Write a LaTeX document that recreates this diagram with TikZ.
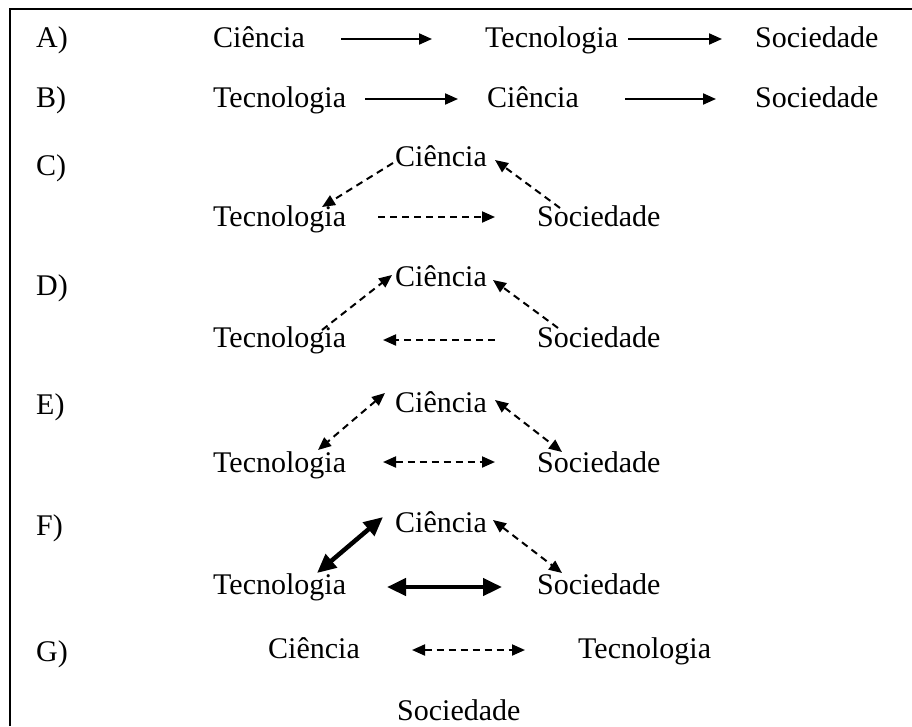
\documentclass[tikz,border=0pt]{standalone}
\usepackage{fontspec}
\setmainfont{Liberation Serif}
\usetikzlibrary{arrows.meta,calc}
\begin{document}
\begin{tikzpicture}[x=1pt,y=-1pt,
  lbl/.style={anchor=base west,inner sep=0pt,font=\fontsize{30}{36}\selectfont},
  thin/.style={line width=2pt,-{Triangle[length=13pt,width=11pt]}},
  dsh/.style={line width=2pt,dash pattern=on 7pt off 5pt,-{Triangle[length=13pt,width=11pt]}},
  dshb/.style={line width=2pt,dash pattern=on 7pt off 5pt,{Triangle[length=13pt,width=11pt]}-{Triangle[length=13pt,width=11pt]}},
  thk/.style={line width=4.5pt,{Triangle[length=19pt,width=17pt]}-{Triangle[length=19pt,width=17pt]}}]
\useasboundingbox (0,0) rectangle (912,726);
\fill[white] (0,0) rectangle (912,726);
\coordinate (corner) at (10,9);
\coordinate (topend) at (912,9);
\coordinate (botend) at (10,726);
\draw[line width=2.5pt] (botend) -- (corner) -- (topend);
% labels
\node[lbl] (lA) at (36,47) {A)};
\node[lbl] (lB) at (36,107) {B)};
\node[lbl] (lC) at (36,175) {C)};
\node[lbl] (lD) at (36,295) {D)};
\node[lbl] (lE) at (36,414) {E)};
\node[lbl] (lF) at (36,535) {F)};
\node[lbl] (lG) at (36,661) {G)};
% row A
\node[lbl] (ca) at (213,47) {Ciência};
\node[lbl] (ta) at (485,47) {Tecnologia};
\node[lbl] (sa) at (755,47) {Sociedade};
\draw[thin] ($(ca.base west)+(128,-8)$) -- ($(ta.base west)+(-53,-8)$);
\draw[thin] ($(ta.base west)+(143,-8)$) -- ($(sa.base west)+(-33,-8)$);
% row B
\node[lbl] (tb) at (213,107) {Tecnologia};
\node[lbl] (cb) at (487,107) {Ciência};
\node[lbl] (sb) at (755,107) {Sociedade};
\draw[thin] ($(tb.base west)+(152,-8)$) -- ($(cb.base west)+(-29,-8)$);
\draw[thin] ($(cb.base west)+(138,-8)$) -- ($(sb.base west)+(-39,-8)$);
% row C
\node[lbl] (cc) at (395,166) {Ciência};
\node[lbl] (tc) at (213,226) {Tecnologia};
\node[lbl] (sc) at (537,226) {Sociedade};
\draw[dsh] ($(cc.base west)+(-2,-3)$) -- ($(tc.base west)+(109,-19)$);
\draw[dsh] ($(sc.base west)+(23,-18)$) -- ($(cc.base west)+(100,-6)$);
\draw[dsh] ($(tc.base west)+(165,-9)$) -- ($(sc.base west)+(-42,-9)$);
% row D
\node[lbl] (cd) at (395,286) {Ciência};
\node[lbl] (td) at (213,347) {Tecnologia};
\node[lbl] (sd) at (537,347) {Sociedade};
\draw[dsh] ($(td.base west)+(109,-17)$) -- ($(cd.base west)+(-3,-11)$);
\draw[dsh] ($(sd.base west)+(21,-19)$) -- ($(cd.base west)+(98,-6)$);
\draw[dsh] ($(sd.base west)+(-42,-7)$) -- ($(td.base west)+(170,-7)$);
% row E
\node[lbl] (ce) at (395,412) {Ciência};
\node[lbl] (te) at (213,472) {Tecnologia};
\node[lbl] (se) at (537,472) {Sociedade};
\draw[dshb] ($(ce.base west)+(-10,-19)$) -- ($(te.base west)+(105,-22)$);
\draw[dshb] ($(ce.base west)+(100,-12)$) -- ($(se.base west)+(25,-20)$);
\draw[dshb] ($(te.base west)+(170,-10)$) -- ($(se.base west)+(-42,-10)$);
% row F
\node[lbl] (cf) at (395,532) {Ciência};
\node[lbl] (tf) at (213,594) {Tecnologia};
\node[lbl] (sf) at (537,594) {Sociedade};
\draw[thk] ($(cf.base west)+(-12,-15)$) -- ($(tf.base west)+(104,-21)$);
\draw[dshb] ($(cf.base west)+(98,-12)$) -- ($(sf.base west)+(25,-21)$);
\draw[thk] ($(tf.base west)+(174,-7)$) -- ($(sf.base west)+(-35,-7)$);
% row G
\node[lbl] (cg) at (268,658) {Ciência};
\node[lbl] (tg) at (578,658) {Tecnologia};
\node[lbl] (sg) at (397,720) {Sociedade};
\draw[dshb] ($(cg.base west)+(144,-8)$) -- ($(tg.base west)+(-53,-8)$);
\end{tikzpicture}
\end{document}
